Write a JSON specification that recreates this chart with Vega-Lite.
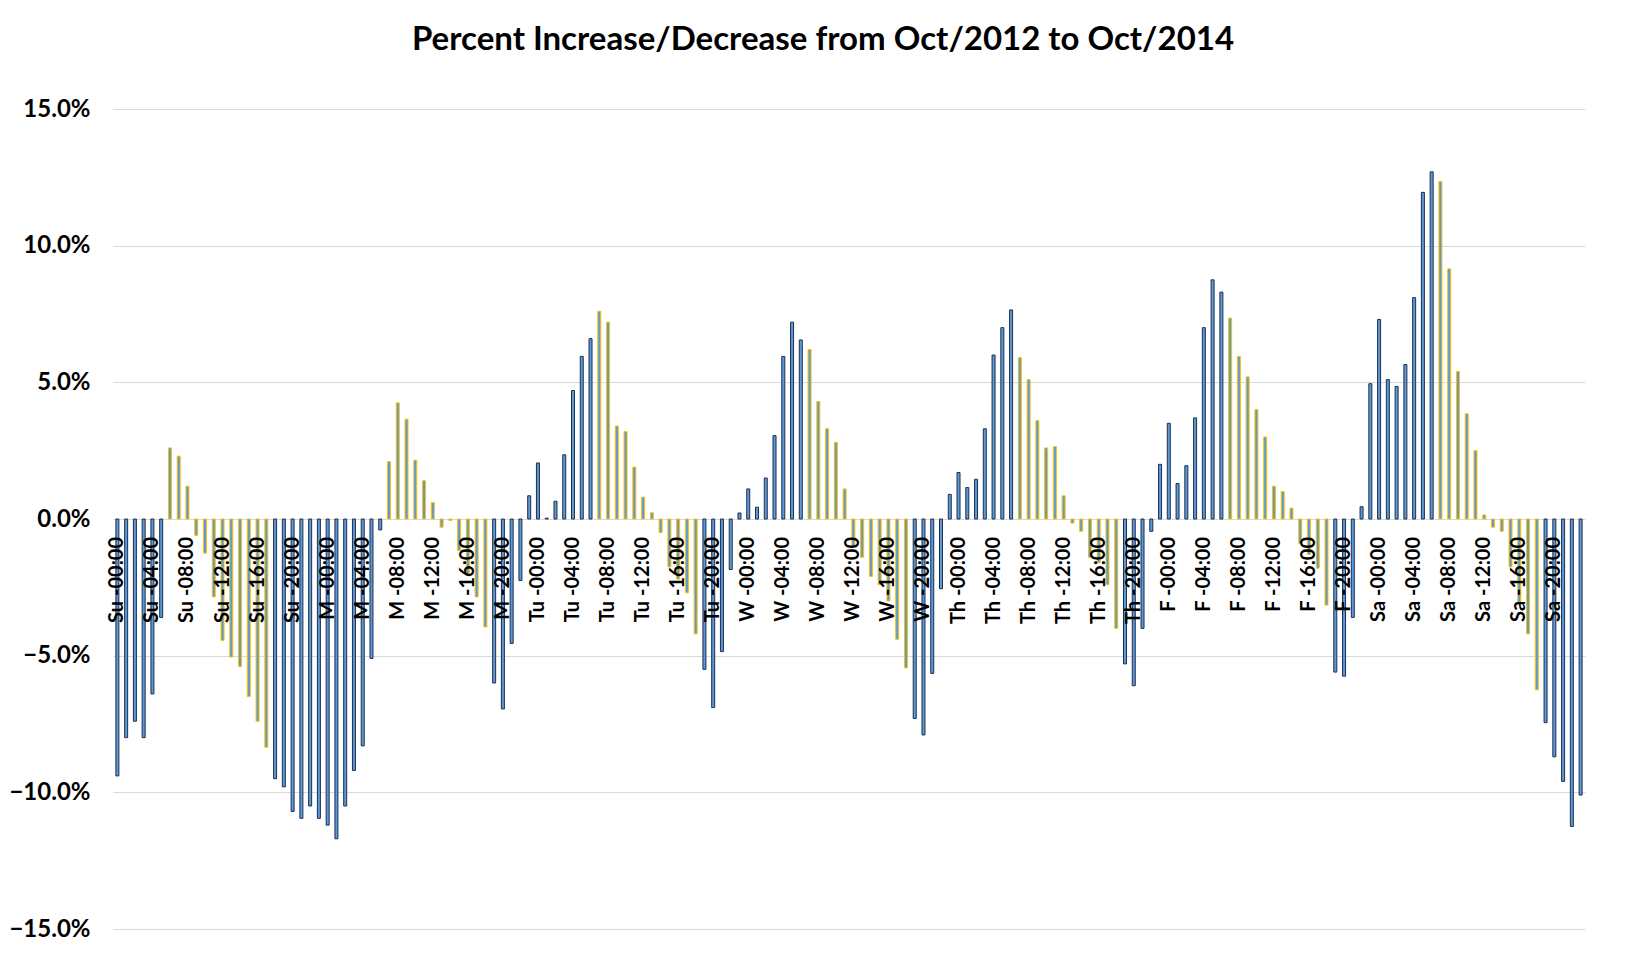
{
  "$schema": "https://vega.github.io/schema/vega-lite/v6.json",
  "width": 1472,
  "height": 820,
  "autosize": "none",
  "padding": {"left": 113, "top": 109, "right": 55, "bottom": 25},
  "background": "white",
  "title": {"text": "Percent Increase/Decrease from Oct/2012 to Oct/2014", "font": "Lato", "fontSize": 33, "fontWeight": "bold", "color": "#000000", "anchor": "middle", "offset": 40, "dx": -26},
  "data": {"values": [
    {"slot": "Su -00:00", "pct": -9.4, "period": "night"},
    {"slot": "Su -01:00", "pct": -8.0, "period": "night"},
    {"slot": "Su -02:00", "pct": -7.4, "period": "night"},
    {"slot": "Su -03:00", "pct": -8.0, "period": "night"},
    {"slot": "Su -04:00", "pct": -6.4, "period": "night"},
    {"slot": "Su -05:00", "pct": -3.6, "period": "night"},
    {"slot": "Su -06:00", "pct": 2.6, "period": "day"},
    {"slot": "Su -07:00", "pct": 2.3, "period": "day"},
    {"slot": "Su -08:00", "pct": 1.2, "period": "day"},
    {"slot": "Su -09:00", "pct": -0.6, "period": "day"},
    {"slot": "Su -10:00", "pct": -1.25, "period": "day"},
    {"slot": "Su -11:00", "pct": -2.85, "period": "day"},
    {"slot": "Su -12:00", "pct": -4.45, "period": "day"},
    {"slot": "Su -13:00", "pct": -5.05, "period": "day"},
    {"slot": "Su -14:00", "pct": -5.4, "period": "day"},
    {"slot": "Su -15:00", "pct": -6.5, "period": "day"},
    {"slot": "Su -16:00", "pct": -7.4, "period": "day"},
    {"slot": "Su -17:00", "pct": -8.35, "period": "day"},
    {"slot": "Su -18:00", "pct": -9.5, "period": "night"},
    {"slot": "Su -19:00", "pct": -9.8, "period": "night"},
    {"slot": "Su -20:00", "pct": -10.7, "period": "night"},
    {"slot": "Su -21:00", "pct": -10.95, "period": "night"},
    {"slot": "Su -22:00", "pct": -10.5, "period": "night"},
    {"slot": "Su -23:00", "pct": -10.95, "period": "night"},
    {"slot": "M -00:00", "pct": -11.2, "period": "night"},
    {"slot": "M -01:00", "pct": -11.7, "period": "night"},
    {"slot": "M -02:00", "pct": -10.5, "period": "night"},
    {"slot": "M -03:00", "pct": -9.2, "period": "night"},
    {"slot": "M -04:00", "pct": -8.3, "period": "night"},
    {"slot": "M -05:00", "pct": -5.1, "period": "night"},
    {"slot": "M -06:00", "pct": -0.4, "period": "night"},
    {"slot": "M -07:00", "pct": 2.1, "period": "day"},
    {"slot": "M -08:00", "pct": 4.25, "period": "day"},
    {"slot": "M -09:00", "pct": 3.65, "period": "day"},
    {"slot": "M -10:00", "pct": 2.15, "period": "day"},
    {"slot": "M -11:00", "pct": 1.4, "period": "day"},
    {"slot": "M -12:00", "pct": 0.6, "period": "day"},
    {"slot": "M -13:00", "pct": -0.3, "period": "day"},
    {"slot": "M -14:00", "pct": -0.05, "period": "day"},
    {"slot": "M -15:00", "pct": -1.15, "period": "day"},
    {"slot": "M -16:00", "pct": -2.0, "period": "day"},
    {"slot": "M -17:00", "pct": -2.85, "period": "day"},
    {"slot": "M -18:00", "pct": -3.95, "period": "day"},
    {"slot": "M -19:00", "pct": -6.0, "period": "night"},
    {"slot": "M -20:00", "pct": -6.95, "period": "night"},
    {"slot": "M -21:00", "pct": -4.55, "period": "night"},
    {"slot": "M -22:00", "pct": -2.25, "period": "night"},
    {"slot": "M -23:00", "pct": 0.85, "period": "night"},
    {"slot": "Tu -00:00", "pct": 2.05, "period": "night"},
    {"slot": "Tu -01:00", "pct": 0.03, "period": "night"},
    {"slot": "Tu -02:00", "pct": 0.65, "period": "night"},
    {"slot": "Tu -03:00", "pct": 2.35, "period": "night"},
    {"slot": "Tu -04:00", "pct": 4.7, "period": "night"},
    {"slot": "Tu -05:00", "pct": 5.95, "period": "night"},
    {"slot": "Tu -06:00", "pct": 6.6, "period": "night"},
    {"slot": "Tu -07:00", "pct": 7.6, "period": "day"},
    {"slot": "Tu -08:00", "pct": 7.2, "period": "day"},
    {"slot": "Tu -09:00", "pct": 3.4, "period": "day"},
    {"slot": "Tu -10:00", "pct": 3.2, "period": "day"},
    {"slot": "Tu -11:00", "pct": 1.9, "period": "day"},
    {"slot": "Tu -12:00", "pct": 0.8, "period": "day"},
    {"slot": "Tu -13:00", "pct": 0.23, "period": "day"},
    {"slot": "Tu -14:00", "pct": -0.5, "period": "day"},
    {"slot": "Tu -15:00", "pct": -1.75, "period": "day"},
    {"slot": "Tu -16:00", "pct": -2.2, "period": "day"},
    {"slot": "Tu -17:00", "pct": -2.7, "period": "day"},
    {"slot": "Tu -18:00", "pct": -4.2, "period": "day"},
    {"slot": "Tu -19:00", "pct": -5.5, "period": "night"},
    {"slot": "Tu -20:00", "pct": -6.9, "period": "night"},
    {"slot": "Tu -21:00", "pct": -4.85, "period": "night"},
    {"slot": "Tu -22:00", "pct": -1.85, "period": "night"},
    {"slot": "Tu -23:00", "pct": 0.22, "period": "night"},
    {"slot": "W -00:00", "pct": 1.1, "period": "night"},
    {"slot": "W -01:00", "pct": 0.43, "period": "night"},
    {"slot": "W -02:00", "pct": 1.5, "period": "night"},
    {"slot": "W -03:00", "pct": 3.05, "period": "night"},
    {"slot": "W -04:00", "pct": 5.95, "period": "night"},
    {"slot": "W -05:00", "pct": 7.2, "period": "night"},
    {"slot": "W -06:00", "pct": 6.55, "period": "night"},
    {"slot": "W -07:00", "pct": 6.2, "period": "day"},
    {"slot": "W -08:00", "pct": 4.3, "period": "day"},
    {"slot": "W -09:00", "pct": 3.3, "period": "day"},
    {"slot": "W -10:00", "pct": 2.8, "period": "day"},
    {"slot": "W -11:00", "pct": 1.1, "period": "day"},
    {"slot": "W -12:00", "pct": -1.0, "period": "day"},
    {"slot": "W -13:00", "pct": -1.4, "period": "day"},
    {"slot": "W -14:00", "pct": -2.1, "period": "day"},
    {"slot": "W -15:00", "pct": -2.4, "period": "day"},
    {"slot": "W -16:00", "pct": -3.0, "period": "day"},
    {"slot": "W -17:00", "pct": -4.4, "period": "day"},
    {"slot": "W -18:00", "pct": -5.45, "period": "day"},
    {"slot": "W -19:00", "pct": -7.3, "period": "night"},
    {"slot": "W -20:00", "pct": -7.9, "period": "night"},
    {"slot": "W -21:00", "pct": -5.65, "period": "night"},
    {"slot": "W -22:00", "pct": -2.55, "period": "night"},
    {"slot": "W -23:00", "pct": 0.9, "period": "night"},
    {"slot": "Th -00:00", "pct": 1.7, "period": "night"},
    {"slot": "Th -01:00", "pct": 1.15, "period": "night"},
    {"slot": "Th -02:00", "pct": 1.45, "period": "night"},
    {"slot": "Th -03:00", "pct": 3.3, "period": "night"},
    {"slot": "Th -04:00", "pct": 6.0, "period": "night"},
    {"slot": "Th -05:00", "pct": 7.0, "period": "night"},
    {"slot": "Th -06:00", "pct": 7.65, "period": "night"},
    {"slot": "Th -07:00", "pct": 5.9, "period": "day"},
    {"slot": "Th -08:00", "pct": 5.1, "period": "day"},
    {"slot": "Th -09:00", "pct": 3.6, "period": "day"},
    {"slot": "Th -10:00", "pct": 2.6, "period": "day"},
    {"slot": "Th -11:00", "pct": 2.65, "period": "day"},
    {"slot": "Th -12:00", "pct": 0.85, "period": "day"},
    {"slot": "Th -13:00", "pct": -0.15, "period": "day"},
    {"slot": "Th -14:00", "pct": -0.45, "period": "day"},
    {"slot": "Th -15:00", "pct": -1.4, "period": "day"},
    {"slot": "Th -16:00", "pct": -1.6, "period": "day"},
    {"slot": "Th -17:00", "pct": -2.4, "period": "day"},
    {"slot": "Th -18:00", "pct": -4.0, "period": "day"},
    {"slot": "Th -19:00", "pct": -5.3, "period": "night"},
    {"slot": "Th -20:00", "pct": -6.1, "period": "night"},
    {"slot": "Th -21:00", "pct": -4.0, "period": "night"},
    {"slot": "Th -22:00", "pct": -0.45, "period": "night"},
    {"slot": "Th -23:00", "pct": 2.0, "period": "night"},
    {"slot": "F -00:00", "pct": 3.5, "period": "night"},
    {"slot": "F -01:00", "pct": 1.3, "period": "night"},
    {"slot": "F -02:00", "pct": 1.95, "period": "night"},
    {"slot": "F -03:00", "pct": 3.7, "period": "night"},
    {"slot": "F -04:00", "pct": 7.0, "period": "night"},
    {"slot": "F -05:00", "pct": 8.75, "period": "night"},
    {"slot": "F -06:00", "pct": 8.3, "period": "night"},
    {"slot": "F -07:00", "pct": 7.35, "period": "day"},
    {"slot": "F -08:00", "pct": 5.95, "period": "day"},
    {"slot": "F -09:00", "pct": 5.2, "period": "day"},
    {"slot": "F -10:00", "pct": 4.0, "period": "day"},
    {"slot": "F -11:00", "pct": 3.0, "period": "day"},
    {"slot": "F -12:00", "pct": 1.2, "period": "day"},
    {"slot": "F -13:00", "pct": 1.0, "period": "day"},
    {"slot": "F -14:00", "pct": 0.4, "period": "day"},
    {"slot": "F -15:00", "pct": -0.9, "period": "day"},
    {"slot": "F -16:00", "pct": -1.3, "period": "day"},
    {"slot": "F -17:00", "pct": -1.8, "period": "day"},
    {"slot": "F -18:00", "pct": -3.15, "period": "day"},
    {"slot": "F -19:00", "pct": -5.6, "period": "night"},
    {"slot": "F -20:00", "pct": -5.75, "period": "night"},
    {"slot": "F -21:00", "pct": -3.6, "period": "night"},
    {"slot": "F -22:00", "pct": 0.45, "period": "night"},
    {"slot": "F -23:00", "pct": 4.95, "period": "night"},
    {"slot": "Sa -00:00", "pct": 7.3, "period": "night"},
    {"slot": "Sa -01:00", "pct": 5.1, "period": "night"},
    {"slot": "Sa -02:00", "pct": 4.85, "period": "night"},
    {"slot": "Sa -03:00", "pct": 5.65, "period": "night"},
    {"slot": "Sa -04:00", "pct": 8.1, "period": "night"},
    {"slot": "Sa -05:00", "pct": 11.95, "period": "night"},
    {"slot": "Sa -06:00", "pct": 12.7, "period": "night"},
    {"slot": "Sa -07:00", "pct": 12.35, "period": "day"},
    {"slot": "Sa -08:00", "pct": 9.15, "period": "day"},
    {"slot": "Sa -09:00", "pct": 5.4, "period": "day"},
    {"slot": "Sa -10:00", "pct": 3.85, "period": "day"},
    {"slot": "Sa -11:00", "pct": 2.5, "period": "day"},
    {"slot": "Sa -12:00", "pct": 0.15, "period": "day"},
    {"slot": "Sa -13:00", "pct": -0.3, "period": "day"},
    {"slot": "Sa -14:00", "pct": -0.45, "period": "day"},
    {"slot": "Sa -15:00", "pct": -1.75, "period": "day"},
    {"slot": "Sa -16:00", "pct": -3.05, "period": "day"},
    {"slot": "Sa -17:00", "pct": -4.2, "period": "day"},
    {"slot": "Sa -18:00", "pct": -6.25, "period": "day"},
    {"slot": "Sa -19:00", "pct": -7.45, "period": "night"},
    {"slot": "Sa -20:00", "pct": -8.7, "period": "night"},
    {"slot": "Sa -21:00", "pct": -9.6, "period": "night"},
    {"slot": "Sa -22:00", "pct": -11.25, "period": "night"},
    {"slot": "Sa -23:00", "pct": -10.1, "period": "night"}
  ]},
  "encoding": {
    "x": {
      "field": "slot", "type": "nominal", "sort": null,
      "scale": {"paddingInner": 0, "paddingOuter": 0},
      "axis": null
    }
  },
  "layer": [
    {
      "mark": {"type": "bar", "width": 3, "strokeWidth": 1, "fill": "#5B9BD5"},
      "encoding": {
        "y": {
          "field": "pct", "type": "quantitative",
          "scale": {"domain": [-15, 15], "nice": false},
          "axis": {
            "title": null, "values": [-15, -10, -5, 0, 5, 10, 15],
            "labelExpr": "format(datum.value, '.1f') + '%'",
            "labelFont": "Lato", "labelFontSize": 24, "labelFontWeight": "bold", "labelColor": "#000000",
            "labelPadding": 23, "ticks": false, "domain": false,
            "gridColor": "#D9D9D9", "gridWidth": 1
          }
        },
        "stroke": {
          "field": "period", "type": "nominal",
          "scale": {"domain": ["night", "day"], "range": ["#1F2D50", "#FFC000"]},
          "legend": null
        }
      }
    },
    {
      "transform": [{"filter": "test(/ -(00|04|08|12|16|20):00$/, datum.slot)"}],
      "mark": {"type": "text", "angle": 270, "align": "right", "baseline": "middle", "dx": -18, "font": "Lato", "fontSize": 20, "fontWeight": "bold", "color": "#000000"},
      "encoding": {
        "y": {"datum": 0},
        "text": {"field": "slot"}
      }
    }
  ],
  "config": {"view": {"stroke": null}}
}
